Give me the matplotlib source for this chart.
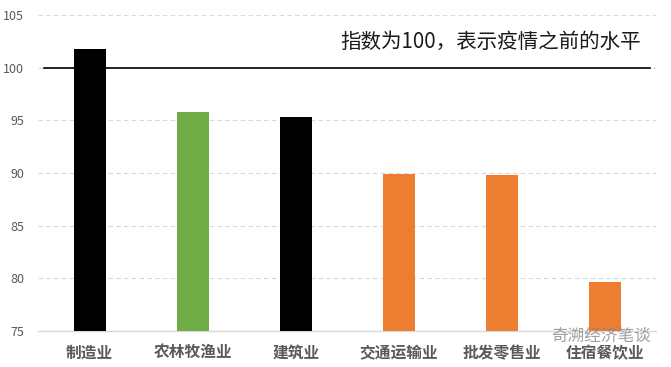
import matplotlib.pyplot as plt

plt.rcParams['font.family'] = ['Noto Sans CJK SC', 'DejaVu Sans']

categories = ['制造业', '农林牧渔业', '建筑业', '交通运输业', '批发零售业', '住宿餐饮业']
values = [101.8, 95.8, 95.3, 89.9, 89.8, 79.7]
colors = ['#000000', '#70AD47', '#000000', '#ED7D31', '#ED7D31', '#ED7D31']
yticks = [75, 80, 85, 90, 95, 100, 105]
baseline = 100
note = '指数为100，表示疫情之前的水平'

fig = plt.figure(figsize=(6.71, 3.67), dpi=100)
ax = fig.add_axes([0.057, 0.098, 0.921, 0.861])

x = range(len(categories))
ax.bar(x, [v - 75 for v in values], bottom=75, width=0.31, color=colors, zorder=3)

ax.set_xlim(-0.5, len(categories) - 0.5)
ax.set_ylim(75, 105)
ax.set_yticks(yticks)
ax.set_yticklabels([str(t) for t in yticks], fontsize=9, color='#595959')
ax.set_xticks(list(x))
ax.set_xticklabels(categories, fontsize=11.3, fontweight='bold', color='#595959')
ax.tick_params(axis='both', length=0)
ax.tick_params(axis='y', pad=10)
ax.tick_params(axis='x', pad=10)

ax.grid(axis='y', color='#D9D9D9', linestyle=(0, (4, 3)), linewidth=0.8, zorder=0)
for s in ['top', 'right', 'left']:
    ax.spines[s].set_visible(False)
ax.spines['bottom'].set_color('#D9D9D9')
ax.spines['bottom'].set_linewidth(1)

ax.axhline(baseline, xmin=0.01, xmax=0.99, color='black', linewidth=1.2, zorder=4)
ax.text(0.975, 0.915, note, transform=ax.transAxes, ha='right', va='center',
        fontsize=14.8, color='#1a1a1a')

fig.text(0.97, 0.082, '奇溯经济笔谈', ha='right', va='center', fontsize=12,
         color='#888888', alpha=0.8)

fig.savefig('out.png', dpi=100)
